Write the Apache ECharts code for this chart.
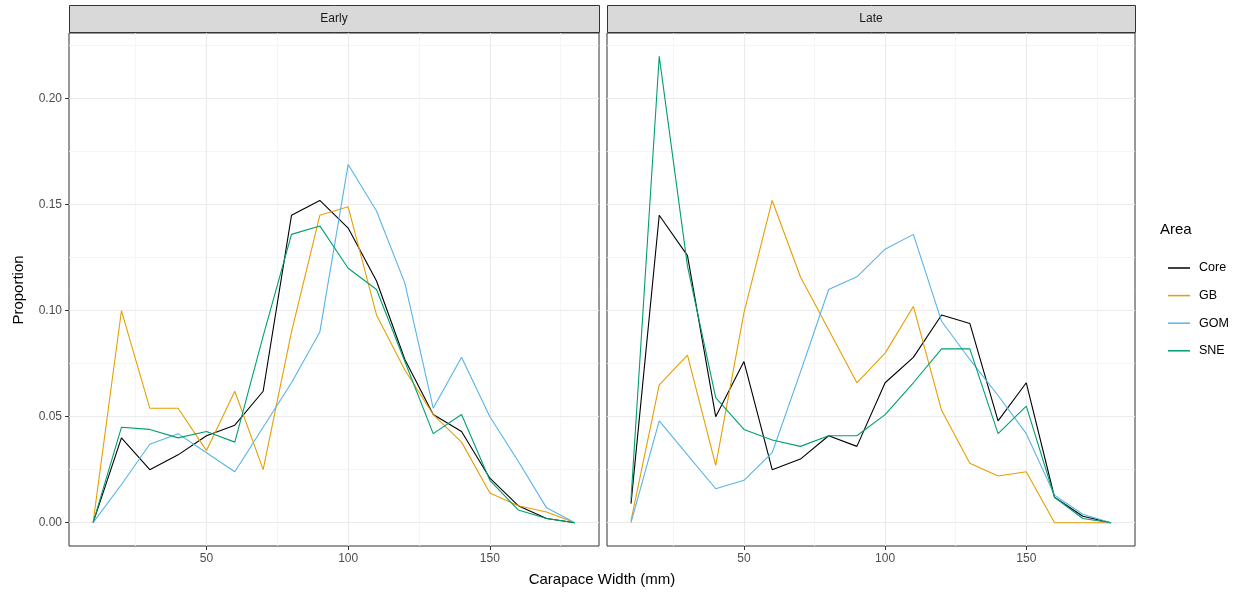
<!DOCTYPE html>
<html>
<head>
<meta charset="utf-8">
<title>Carapace width proportions by area</title>
<script src="https://cdn.jsdelivr.net/npm/echarts@6/dist/echarts.min.js"></script>
<style>
  html, body { margin: 0; padding: 0; background: #ffffff; }
  #chart { width: 1241px; height: 598px; }
</style>
</head>
<body>
<div id="chart"></div>
<script>
// Carapace width bins (mm)
const widths = [10, 20, 30, 40, 50, 60, 70, 80, 90, 100, 110, 120, 130, 140, 150, 160, 170, 180];

// Panel labels and area names
const panels = ['Early', 'Late'];
const areas = ['Core', 'GB', 'GOM', 'SNE'];
const areaColors = ['#000000', '#E69F00', '#56B4E9', '#009E73'];

// Proportions, Early period
const earlyCore = [0, 0.040, 0.025, 0.032, 0.041, 0.046, 0.062, 0.145, 0.152, 0.139, 0.114, 0.077, 0.051, 0.043, 0.021, 0.008, 0.002, 0];
const earlyGB   = [0, 0.100, 0.054, 0.054, 0.034, 0.062, 0.025, 0.090, 0.145, 0.149, 0.098, 0.072, 0.051, 0.038, 0.014, 0.008, 0.005, 0];
const earlyGOM  = [0, 0.018, 0.037, 0.042, 0.033, 0.024, 0.045, 0.066, 0.090, 0.169, 0.147, 0.113, 0.054, 0.078, 0.050, 0.029, 0.007, 0];
const earlySNE  = [0, 0.045, 0.044, 0.040, 0.043, 0.038, 0.088, 0.136, 0.140, 0.120, 0.110, 0.076, 0.042, 0.051, 0.020, 0.006, 0.002, 0];

// Proportions, Late period
const lateCore = [0.009, 0.145, 0.126, 0.050, 0.076, 0.025, 0.030, 0.041, 0.036, 0.066, 0.078, 0.098, 0.094, 0.048, 0.066, 0.012, 0.003, 0];
const lateGB   = [0.001, 0.065, 0.079, 0.027, 0.099, 0.152, 0.116, 0.091, 0.066, 0.080, 0.102, 0.053, 0.028, 0.022, 0.024, 0, 0, 0];
const lateGOM  = [0, 0.048, 0.032, 0.016, 0.020, 0.033, 0.071, 0.110, 0.116, 0.129, 0.136, 0.095, 0.077, 0.060, 0.042, 0.013, 0.004, 0];
const lateSNE  = [0.011, 0.220, 0.121, 0.059, 0.044, 0.039, 0.036, 0.041, 0.041, 0.051, 0.066, 0.082, 0.082, 0.042, 0.055, 0.012, 0.002, 0];

// Tick positions
const xMajorTicks = [50, 100, 150];
const xMinorTicks = [25, 75, 125, 175];
const yMajorTicks = [0, 0.05, 0.10, 0.15, 0.20];
const yMinorTicks = [0.025, 0.075, 0.125, 0.175, 0.225];

const panelSeries = [
  [earlyCore, earlyGB, earlyGOM, earlySNE],
  [lateCore, lateGB, lateGOM, lateSNE]
];

const FONT = 'Liberation Sans, Arial, sans-serif';
const X_MIN = 1.5, X_MAX = 188.5;
const Y_MIN = -0.011, Y_MAX = 0.231;

const grids = [
  { left: 69, top: 33, width: 530, height: 513 },
  { left: 607, top: 33, width: 528, height: 513 }
];

const gridOpts = grids.map(g => ({
  left: g.left, top: g.top, width: g.width, height: g.height,
  show: true, borderColor: '#333333', borderWidth: 1, backgroundColor: 'transparent',
  containLabel: false
}));

const hiddenTick = vals => ({
  show: false, length: 0, customValues: vals, lineStyle: { color: 'rgba(0,0,0,0)', width: 0 }
});

const xAxes = [];
const yAxes = [];
grids.forEach((g, i) => {
  // main axes: carry data, major grid lines, ticks and labels
  xAxes.push({
    type: 'value', gridIndex: i, min: X_MIN, max: X_MAX, position: 'bottom',
    axisLine: { show: false, onZero: false },
    axisTick: { show: true, length: 4, lineStyle: { color: '#333333', width: 1 }, customValues: xMajorTicks },
    axisLabel: { show: true, color: '#4D4D4D', fontSize: 12, fontFamily: FONT, margin: 7, customValues: xMajorTicks,
                 formatter: v => String(v) },
    splitLine: { show: true, lineStyle: { color: '#EBEBEB', width: 1.1 } },
    z: 1
  });
  yAxes.push({
    type: 'value', gridIndex: i, min: Y_MIN, max: Y_MAX, position: 'left',
    axisLine: { show: false, onZero: false },
    axisTick: i === 0
      ? { show: true, length: 4, lineStyle: { color: '#333333', width: 1 }, customValues: yMajorTicks }
      : hiddenTick(yMajorTicks),
    axisLabel: { show: i === 0, color: '#4D4D4D', fontSize: 12, fontFamily: FONT, margin: 7, customValues: yMajorTicks,
                 formatter: v => v.toFixed(2) },
    splitLine: { show: true, lineStyle: { color: '#EBEBEB', width: 1.1 } },
    z: 1
  });
});
grids.forEach((g, i) => {
  // secondary axes: minor grid lines only
  xAxes.push({
    type: 'value', gridIndex: i, min: X_MIN, max: X_MAX, position: 'bottom',
    axisLine: { show: false, onZero: false },
    axisTick: hiddenTick(xMinorTicks),
    axisLabel: { show: false, customValues: xMinorTicks },
    splitLine: { show: true, lineStyle: { color: '#F2F2F2', width: 0.8 } },
    z: 0
  });
  yAxes.push({
    type: 'value', gridIndex: i, min: Y_MIN, max: Y_MAX, position: 'left',
    axisLine: { show: false, onZero: false },
    axisTick: hiddenTick(yMinorTicks),
    axisLabel: { show: false, customValues: yMinorTicks },
    splitLine: { show: true, lineStyle: { color: '#F2F2F2', width: 0.8 } },
    z: 0
  });
});

const series = [];
panelSeries.forEach((sets, pi) => {
  sets.forEach((vals, ai) => {
    series.push({
      name: areas[ai],
      type: 'line',
      xAxisIndex: pi,
      yAxisIndex: pi,
      data: widths.map((w, k) => [w, vals[k]]),
      showSymbol: false,
      symbol: 'none',
      lineStyle: { color: areaColors[ai], width: 1.1 },
      itemStyle: { color: areaColors[ai] },
      silent: true,
      animation: false,
      z: 3
    });
  });
});

// facet strips, axis titles and legend title
const graphics = [];
grids.forEach((g, i) => {
  graphics.push({
    type: 'rect', left: g.left, top: 5,
    shape: { width: g.width, height: 27 },
    style: { fill: '#D9D9D9', stroke: '#333333', lineWidth: 1 }
  });
  graphics.push({
    type: 'text', x: g.left + g.width / 2, y: 19,
    style: { text: panels[i], fill: '#1A1A1A', font: '12px ' + FONT, textAlign: 'center', textVerticalAlign: 'middle' }
  });
});
graphics.push({
  type: 'text', x: 602, y: 580,
  style: { text: 'Carapace Width (mm)', fill: '#000000', font: '15px ' + FONT, textAlign: 'center', textVerticalAlign: 'middle' }
});
graphics.push({
  type: 'text', x: 19, y: 290, rotation: Math.PI / 2,
  style: { text: 'Proportion', fill: '#000000', font: '15px ' + FONT, textAlign: 'center', textVerticalAlign: 'middle' }
});
graphics.push({
  type: 'text', x: 1160, y: 230,
  style: { text: 'Area', fill: '#000000', font: '15px ' + FONT, textAlign: 'left', textVerticalAlign: 'middle' }
});

const chart = echarts.init(document.getElementById('chart'), null, { renderer: 'canvas' });
chart.setOption({
  animation: false,
  backgroundColor: '#ffffff',
  grid: gridOpts,
  xAxis: xAxes,
  yAxis: yAxes,
  legend: {
    data: areas,
    orient: 'vertical',
    left: 1163,
    top: 256,
    icon: 'rect',
    itemWidth: 22,
    itemHeight: 1.5,
    itemGap: 13.6,
    selectedMode: false,
    textStyle: { color: '#000000', fontSize: 12.5, fontFamily: FONT, lineHeight: 14, padding: [0, 0, 0, 4] }
  },
  graphic: graphics,
  series: series
});
</script>
</body>
</html>
